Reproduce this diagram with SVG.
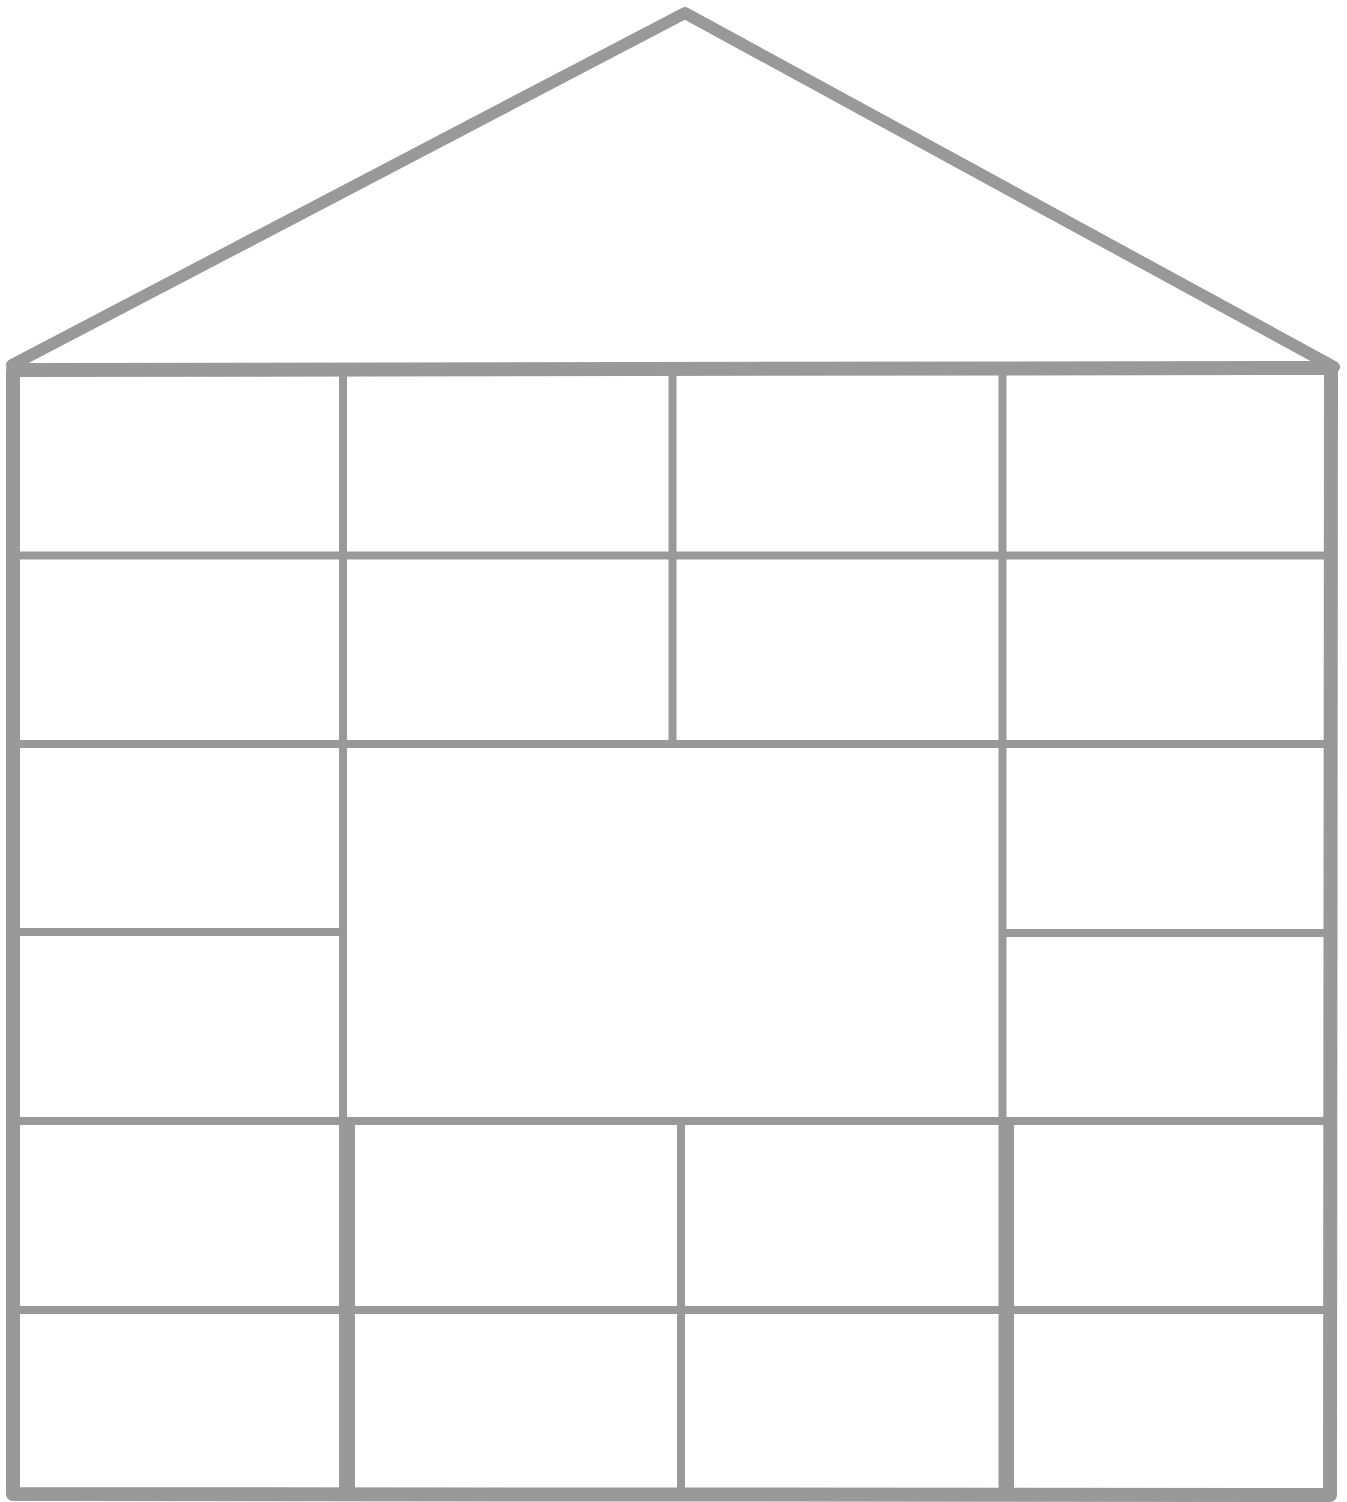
<svg xmlns="http://www.w3.org/2000/svg" width="1347" height="1502" viewBox="0 0 1347 1502">
<style>
.ln{stroke:#999999;stroke-width:8;fill:none;stroke-linecap:butt}
.frame{stroke:#999999;stroke-width:14;fill:none;stroke-linejoin:round}
.roof{stroke:#999999;stroke-width:12;fill:none;stroke-linejoin:round;stroke-linecap:round}
</style>
<rect width="1347" height="1502" fill="#ffffff"/>
<g id="roof">
<polyline class="roof" points="12,365 685,13 1334,367"/>
</g>
<g id="grid">
<line class="ln" x1="13" y1="555.5" x2="1330" y2="555.5"/>
<line class="ln" x1="13" y1="744" x2="1330" y2="744"/>
<line class="ln" x1="13" y1="932" x2="343" y2="932"/>
<line class="ln" x1="1002.5" y1="933" x2="1330" y2="933"/>
<line class="ln" x1="13" y1="1121" x2="1330" y2="1121"/>
<line class="ln" x1="13" y1="1310" x2="1330" y2="1310"/>
<line class="ln" x1="343" y1="370" x2="343" y2="1495"/>
<line class="ln" x1="672.5" y1="370" x2="672.5" y2="744"/>
<line class="ln" x1="1002.5" y1="369" x2="1002.5" y2="1495"/>
<line class="ln" x1="351" y1="1121" x2="351" y2="1495"/>
<line class="ln" x1="681" y1="1121" x2="681" y2="1495"/>
<line class="ln" x1="1010" y1="1121" x2="1010" y2="1495"/>
</g>
<g id="frame">
<path class="frame" d="M13,370 L1331,368 L1330,1495 L13,1494 Z"/>
</g>
</svg>
